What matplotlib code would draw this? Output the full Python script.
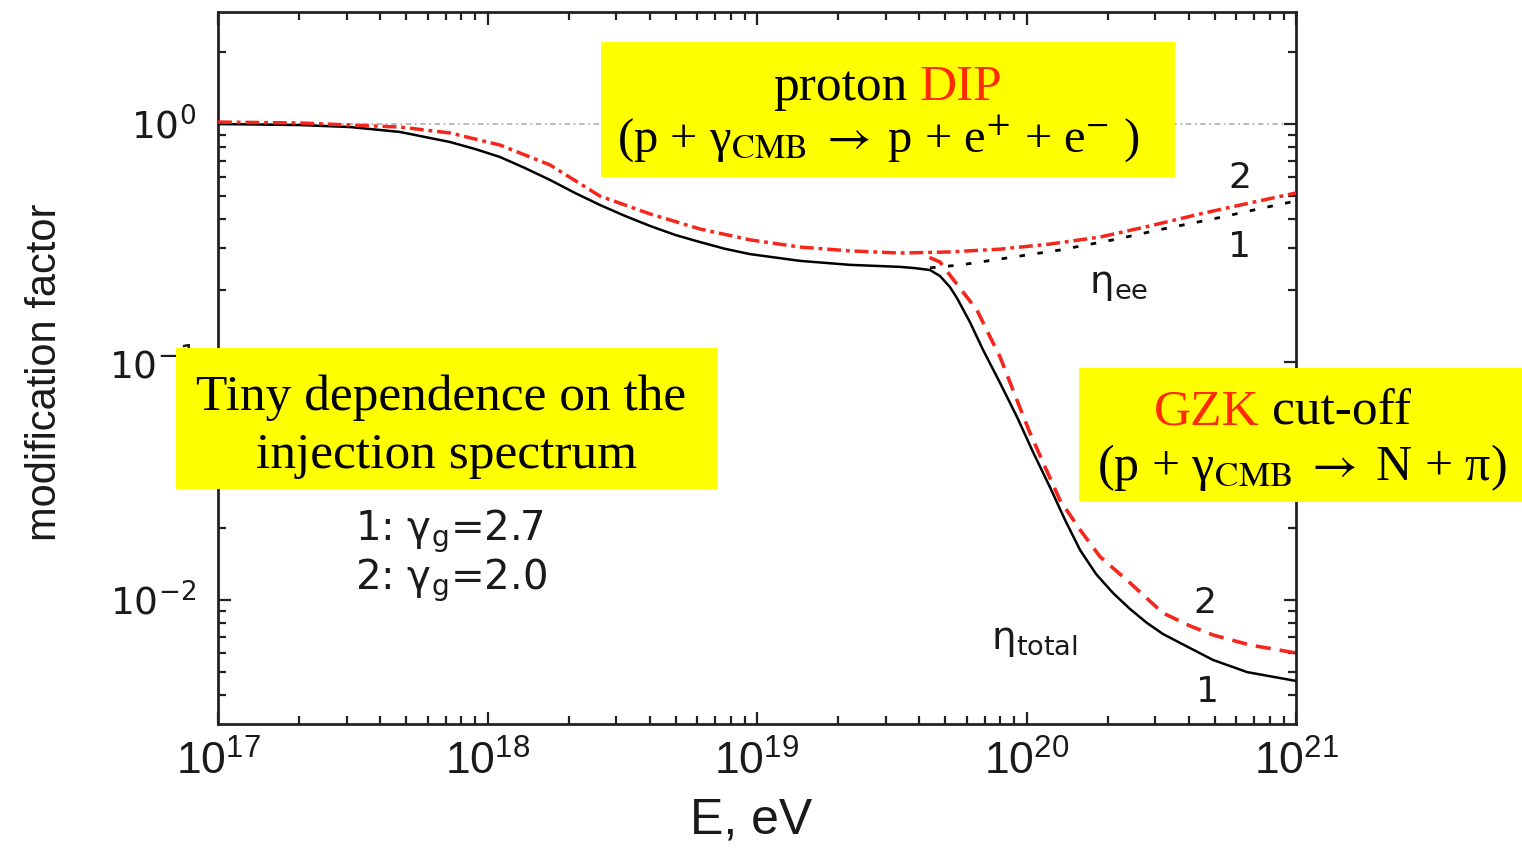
"""Modification factor of proton spectrum: pair-production dip and GZK cut-off."""
import matplotlib
matplotlib.use("Agg")
import matplotlib.pyplot as plt
import numpy as np
from matplotlib.patches import Rectangle
from matplotlib.ticker import LogLocator, NullFormatter

W, H = 1522, 848

# log10(E / eV) and modification factor for each curve
log_e_total_1 = [17.0, 17.304, 17.49, 17.675, 17.861, 17.954, 18.046, 18.139,
                 18.232, 18.325, 18.417, 18.51, 18.603, 18.696, 18.789, 18.881,
                 18.974, 19.16, 19.345, 19.531, 19.586, 19.642, 19.679, 19.716,
                 19.742, 19.79, 19.839, 19.902, 19.965, 20.024, 20.087, 20.143,
                 20.199, 20.258, 20.321, 20.384, 20.447, 20.506, 20.57, 20.692,
                 20.818, 21.0]
total_1 = [1.0, 0.99, 0.971, 0.926, 0.84, 0.785, 0.727, 0.653,
           0.582, 0.513, 0.457, 0.411, 0.373, 0.342, 0.319, 0.299,
           0.284, 0.266, 0.256, 0.251, 0.248, 0.2435, 0.2298, 0.2065,
           0.1857, 0.1472, 0.1123, 0.0816, 0.0587, 0.0419, 0.0298, 0.0217,
           0.0162, 0.01286, 0.0107, 0.00917, 0.00801, 0.0072, 0.0066, 0.0056,
           0.00498, 0.00457]

log_e_ee_2 = [17.0, 17.304, 17.675, 17.861, 18.046, 18.232, 18.417, 18.603,
              18.789, 18.974, 19.16, 19.345, 19.531, 19.716, 19.902, 20.087,
              20.273, 20.458, 20.644, 20.829, 21.0]
ee_2 = [1.019, 1.01, 0.971, 0.917, 0.816, 0.673, 0.498, 0.419,
        0.362, 0.326, 0.304, 0.293, 0.287, 0.29, 0.298, 0.313,
        0.335, 0.373, 0.419, 0.466, 0.513]

log_e_ee_1 = [19.642, 19.753, 19.95, 20.124, 20.321, 20.506, 20.692, 20.878, 21.0]
ee_1 = [0.2487, 0.2556, 0.276, 0.2955, 0.326, 0.362, 0.399, 0.444, 0.475]

log_e_total_2 = [19.64, 19.679, 19.724, 19.764, 19.816, 19.865, 19.902, 19.957,
                 20.013, 20.069, 20.124, 20.199, 20.273, 20.384, 20.506, 20.607,
                 20.692, 20.829, 21.0]
total_2 = [0.275, 0.263, 0.2254, 0.197, 0.1654, 0.1274, 0.105, 0.0727,
           0.0503, 0.0362, 0.0263, 0.0197, 0.0152, 0.0118, 0.00882, 0.00778,
           0.00713, 0.00647, 0.00599]

RED = "#f5261c"
TXT_RED = "#ff2a00"
YELLOW = "#ffff00"
INK = "#1a1a1a"


def fx(x):
    return x / W


def fy(y):
    return 1 - y / H


fig = plt.figure(figsize=(W / 100, H / 100), dpi=100)
ax = fig.add_axes([fx(218), fy(724), (1296 - 218) / W, (724 - 12) / H])

ax.axhline(1.0, color="#b4b4b4", lw=1.3, linestyle=(0, (3, 2, 1, 2)), zorder=1)
ax.plot(10 ** np.array(log_e_total_1), total_1, color="black", lw=1.8, zorder=3)
ax.plot(10 ** np.array(log_e_ee_1), ee_1, color="black", lw=2.0,
        linestyle=(0, (2, 4.5)), zorder=3)
ax.plot(10 ** np.array(log_e_ee_2), ee_2, color=RED, lw=2.5,
        linestyle=(0, (4, 1.4, 1.1, 1.4)), zorder=4)
ax.plot(10 ** np.array(log_e_total_2), total_2, color=RED, lw=2.6,
        linestyle=(0, (4.2, 2.5)), zorder=4)

ax.set_xscale("log")
ax.set_yscale("log")
ax.set_xlim(1e17, 1e21)
ax.set_ylim(10 ** -2.521, 10 ** 0.4706)

for axis in (ax.xaxis, ax.yaxis):
    axis.set_major_locator(LogLocator(base=10, numticks=12))
    axis.set_minor_locator(LogLocator(base=10, subs=np.arange(2, 10), numticks=60))
    axis.set_minor_formatter(NullFormatter())

ax.tick_params(which="both", direction="in", top=True, right=True,
               width=1.6, color="#222222")
ax.tick_params(which="major", length=9)
ax.tick_params(which="minor", length=5.5)
ax.tick_params(axis="x", labelsize=32, pad=12, labelfontfamily="Liberation Sans",
               labelcolor=INK)
ax.tick_params(axis="y", labelsize=27, pad=16, labelfontfamily="DejaVu Sans",
               labelcolor=INK)
for sp in ax.spines.values():
    sp.set_linewidth(2.0)
    sp.set_color("#222222")

ax.set_xlabel("E, eV", fontsize=36, family="Liberation Sans", va="center",
              color=INK)
ax.xaxis.set_label_coords((751 - 218) / 1078, (724 - 821) / 712)
ax.set_ylabel("modification factor", fontsize=30, family="Liberation Sans",
              va="center", color=INK)
ax.yaxis.set_label_coords((45 - 218) / 1078, (724 - 372) / 712)

# curve labels
sans = dict(family="DejaVu Sans", color=INK, va="center",
            math_fontfamily="dejavusans")
for x, y, s in [(1240, 178, "2"), (1240, 247, "1"), (1205, 603, "2"), (1207, 692, "1")]:
    fig.text(fx(x), fy(y), s, ha="center", fontsize=26, **sans)
fig.text(fx(1089), fy(284), r"η$_{\mathregular{ee}}$", ha="left", fontsize=28, **sans)
fig.text(fx(991), fy(640), r"η$_{\mathregular{total}}$", ha="left", fontsize=28, **sans)
fig.text(fx(355), fy(531), r"1: γ$_{\mathregular{g}}$=2.7", ha="left", fontsize=29, **sans)
fig.text(fx(355), fy(580), r"2: γ$_{\mathregular{g}}$=2.0", ha="left", fontsize=29, **sans)

# yellow call-out boxes
boxes = [(601, 42, 1175, 177), (176, 348, 717, 489), (1079, 368, 1522, 502)]
for x0, y0, x1, y1 in boxes:
    fig.add_artist(Rectangle((fx(x0), fy(y1)), fx(x1 - x0), (y1 - y0) / H,
                             transform=fig.transFigure, facecolor=YELLOW,
                             edgecolor="none", zorder=5))

serif = dict(family="Liberation Serif", va="baseline", zorder=6,
             math_fontfamily="stix")
fig.text(fx(907), fy(100), "proton", ha="right", color="black", fontsize=37, **serif)
fig.text(fx(920), fy(100), "DIP", ha="left", color=TXT_RED, fontsize=37, **serif)
fig.text(fx(878), fy(152),
         r"(p + γ$_{\mathrm{CMB}}\;\rightarrow\;$p + e$^{+}$ + e$^{-}$ )",
         ha="center", color="black", fontsize=35, **serif)

fig.text(fx(441), fy(410), "Tiny dependence on the", ha="center", color="black",
         fontsize=37, **serif)
fig.text(fx(447), fy(468), "injection spectrum", ha="center", color="black",
         fontsize=37, **serif)

fig.text(fx(1259), fy(425), "GZK", ha="right", color=TXT_RED, fontsize=37, **serif)
fig.text(fx(1272), fy(425), "cut-off", ha="left", color="black", fontsize=37, **serif)
fig.text(fx(1302), fy(480), r"(p + γ$_{\mathrm{CMB}}\;\rightarrow\;$N + π)",
         ha="center", color="black", fontsize=36, **serif)

fig.savefig("out.png", dpi=100, facecolor="white")
